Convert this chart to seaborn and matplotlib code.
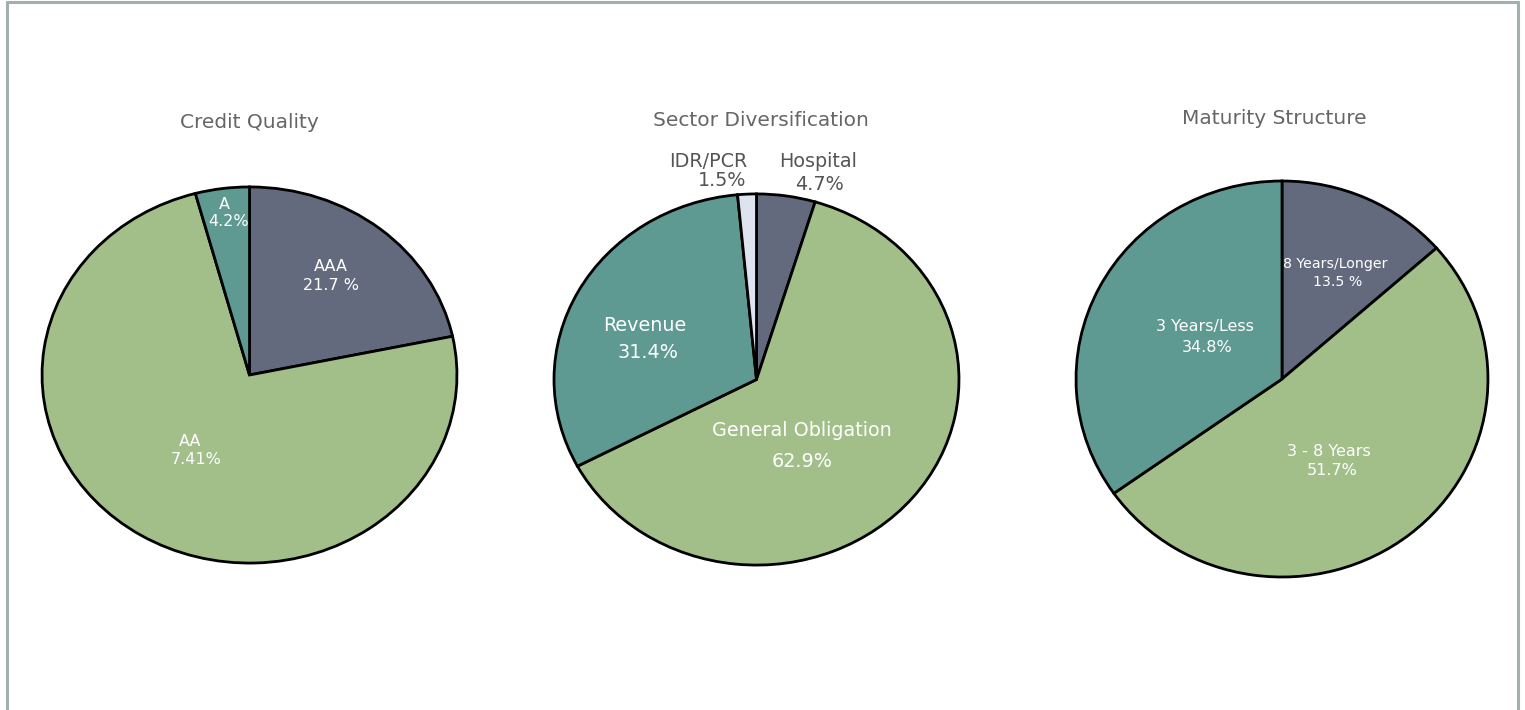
import matplotlib
matplotlib.use("Agg")
import matplotlib.pyplot as plt
import seaborn as sns
from matplotlib.lines import Line2D

# ---- data ----
credit_labels = ["AAA", "AA", "A"]
credit_values = [21.7, 74.1, 4.2]
credit_texts = ["21.7 %", "7.41%", "4.2%"]

sector_labels = ["Hospital", "General Obligation", "Revenue", "IDR/PCR"]
sector_values = [4.7, 62.9, 31.4, 1.5]
sector_texts = ["4.7%", "62.9%", "31.4%", "1.5%"]

maturity_labels = ["8 Years/Longer", "3 - 8 Years", "3 Years/Less"]
maturity_values = [13.5, 51.7, 34.8]
maturity_texts = ["13.5 %", "51.7%", "34.8%"]

titles = ["Credit Quality", "Sector Diversification", "Maturity Structure"]

# ---- style ----
sns.set_theme(style="white")
plt.rcParams["font.family"] = ["DejaVu Sans"]

SLATE, GREEN, TEAL, LIGHT = "#646a7e", "#a2bf8a", "#5e9a92", "#dde4f0"
credit_colors = [SLATE, GREEN, TEAL]
sector_colors = [SLATE, GREEN, TEAL, LIGHT]
maturity_colors = [SLATE, GREEN, TEAL]

W, H = 1525, 710
fig = plt.figure(figsize=(W / 100, H / 100), dpi=100)

# ellipse bounds in pixels: (left, top, right, bottom)
boxes = [(41, 186, 458, 564), (553, 193, 960, 566), (1075, 180, 1489, 578)]
title_pos = [(249, 123), (761, 121), (1274, 119)]

# label pixel positions (name, value) per pie
label_pos = [
    [((331, 266), (331, 285)), ((190, 442), (196, 460)), ((224, 204), (228, 221))],
    [((818, 160), (820, 184)), ((802, 431), (802, 462)), ((644, 325), (647, 352)), ((708, 160), (722, 180))],
    [((1336, 263), (1338, 282)), ((1329, 452), (1332, 471)), ((1205, 326), (1207, 347))],
]
label_colors = [
    ["white", "white", "white"],
    ["#555555", "white", "white", "#555555"],
    ["white", "white", "white"],
]
label_sizes = [
    [11.5, 11.5, 11.5],
    [13.8, 13.8, 13.8, 13.8],
    [10.2, 11.5, 11.5],
]

datasets = [
    (credit_labels, credit_values, credit_texts, credit_colors),
    (sector_labels, sector_values, sector_texts, sector_colors),
    (maturity_labels, maturity_values, maturity_texts, maturity_colors),
]

for i, (labels, values, texts, colors) in enumerate(datasets):
    l, t, r, b = boxes[i]
    ax = fig.add_axes([l / W, (H - b) / H, (r - l) / W, (b - t) / H])
    ax.pie(values, colors=colors, startangle=90, counterclock=False,
           wedgeprops=dict(edgecolor="black", linewidth=2.0),
           radius=1.0, frame=False)
    ax.set_aspect("auto")
    ax.set_xlim(-1.005, 1.005)
    ax.set_ylim(-1.005, 1.005)
    ax.axis("off")

    def to_data(px, py, l=l, t=t, r=r, b=b):
        x = (px - l) / (r - l) * 2 - 1
        y = 1 - (py - t) / (b - t) * 2
        return x, y

    for j, name in enumerate(labels):
        (npos, vpos) = label_pos[i][j]
        c = label_colors[i][j]
        fs = label_sizes[i][j]
        x, y = to_data(*npos)
        ax.text(x, y, name, ha="center", va="center", color=c, fontsize=fs, clip_on=False)
        x, y = to_data(*vpos)
        ax.text(x, y, texts[j], ha="center", va="center", color=c, fontsize=fs, clip_on=False)

for (tx, ty), title in zip(title_pos, titles):
    fig.text(tx / W, 1 - ty / H, title, ha="center", va="center", color="#666666", fontsize=14.5)

# frame border
bc = "#9fb0ae"
fig.add_artist(Line2D([7 / W, 7 / W], [0, 1 - 2 / H], color=bc, linewidth=2.2, transform=fig.transFigure))
fig.add_artist(Line2D([7 / W, 1518 / W], [1 - 2 / H, 1 - 2 / H], color=bc, linewidth=2.2, transform=fig.transFigure))
fig.add_artist(Line2D([1518 / W, 1518 / W], [0, 1 - 2 / H], color=bc, linewidth=2.2, transform=fig.transFigure))

fig.savefig("out.png", dpi=100, facecolor="white")
